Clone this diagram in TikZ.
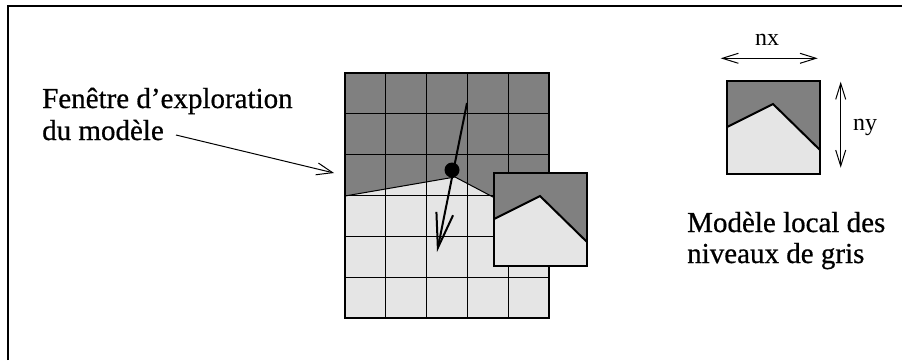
\documentclass[tikz,border=0pt]{standalone}
\usepackage{fontspec}
\setmainfont{Liberation Serif}
\newfontfamily\labelfont[FakeBold=0.6]{Liberation Serif}
\usetikzlibrary{arrows.meta,calc}
\definecolor{darkg}{gray}{0.5}
\definecolor{lightg}{gray}{0.9}
\tikzset{
  bigtext/.style={font=\labelfont\fontsize{29}{32}\selectfont, inner sep=0, anchor=base west},
  dimtext/.style={font=\fontsize{24}{26}\selectfont, inner sep=0},
  gridline/.style={line width=1.1pt},
  edge/.style={line width=2pt, line join=miter},
  modelbox/.style={draw, line width=2.4pt, minimum size=93pt, inner sep=0},
  bigarrow/.style={line width=2pt, arrows={-Straight Barb[length=35pt,width=17pt,line width=2pt]}},
  thinarrow/.style={line width=1pt, arrows={-Straight Barb[length=16pt,width=12pt]}},
  dimarrow/.style={line width=1pt, arrows={Straight Barb[length=16pt,width=10pt]-Straight Barb[length=16pt,width=10pt]}},
  localmodel/.pic={
    \fill[darkg] (0,0) rectangle (93,93);
    \fill[lightg] (0,46) -- (46,23) -- (93,69) -- (93,93) -- (0,93) -- cycle;
    \draw[edge] (0,46) -- (46,23) -- (93,69);
  }
}
\begin{document}
\begin{tikzpicture}[x=1pt,y=-1pt]
\useasboundingbox (0,0) rectangle (902,360);
% frame
\draw[line width=1.5pt] (8,360) -- (8,6) -- (902,6);

% grid window
\fill[lightg] (345,73) rectangle (549,318);
\fill[darkg] (345,73) -- (549,73) -- (549,226.5) -- (455,177) -- (345,196) -- cycle;
\draw[line width=1pt] (345,196) -- (455,177) -- (549,226.5);
\foreach \i in {1,...,4} \draw[gridline] (345+40.8*\i,73) -- (345+40.8*\i,318);
\foreach \j in {1,...,5} \draw[gridline] (345,73+40.83*\j) -- (549,73+40.83*\j);
\node[draw, line width=1.4pt, minimum width=204pt, minimum height=245pt, inner sep=0] (grid) at (447,195.5) {};

% exploration arrow and point
\coordinate (astart) at (467,103);
\coordinate (aend) at (437,252);
\draw[bigarrow] (astart) -- (aend);
\fill (452,170) circle (7.5pt) coordinate (pt);

% inset local model
\pic at (494,173) {localmodel};
\node[modelbox] (inset) at (540.5,219.5) {};

% label left
\node[bigtext] (lab1) at (42,108) {Fenêtre d’exploration};
\node[bigtext] (lab2) at (42,140) {du modèle};
\coordinate (lstart) at (176,135);
\coordinate (lend) at (334,173);
\draw[thinarrow] (lstart) -- (lend);

% right model
\pic at (727,81) {localmodel};
\node[modelbox] (model) at (773.5,127.5) {};
\coordinate (nxa) at (720.7,58.3);
\coordinate (nxb) at (817.7,58.3);
\draw[dimarrow] (nxa) -- (nxb);
\node[dimtext, anchor=base] (nx) at (767,45) {nx};
\coordinate (nya) at (840.7,81.7);
\coordinate (nyb) at (840.7,167.7);
\draw[dimarrow] (nya) -- (nyb);
\node[dimtext, anchor=base west] (ny) at (853,130) {ny};

\node[bigtext] (lab3) at (687,232) {Modèle local des};
\node[bigtext] (lab4) at (687,263) {niveaux de gris};
\end{tikzpicture}
\end{document}
